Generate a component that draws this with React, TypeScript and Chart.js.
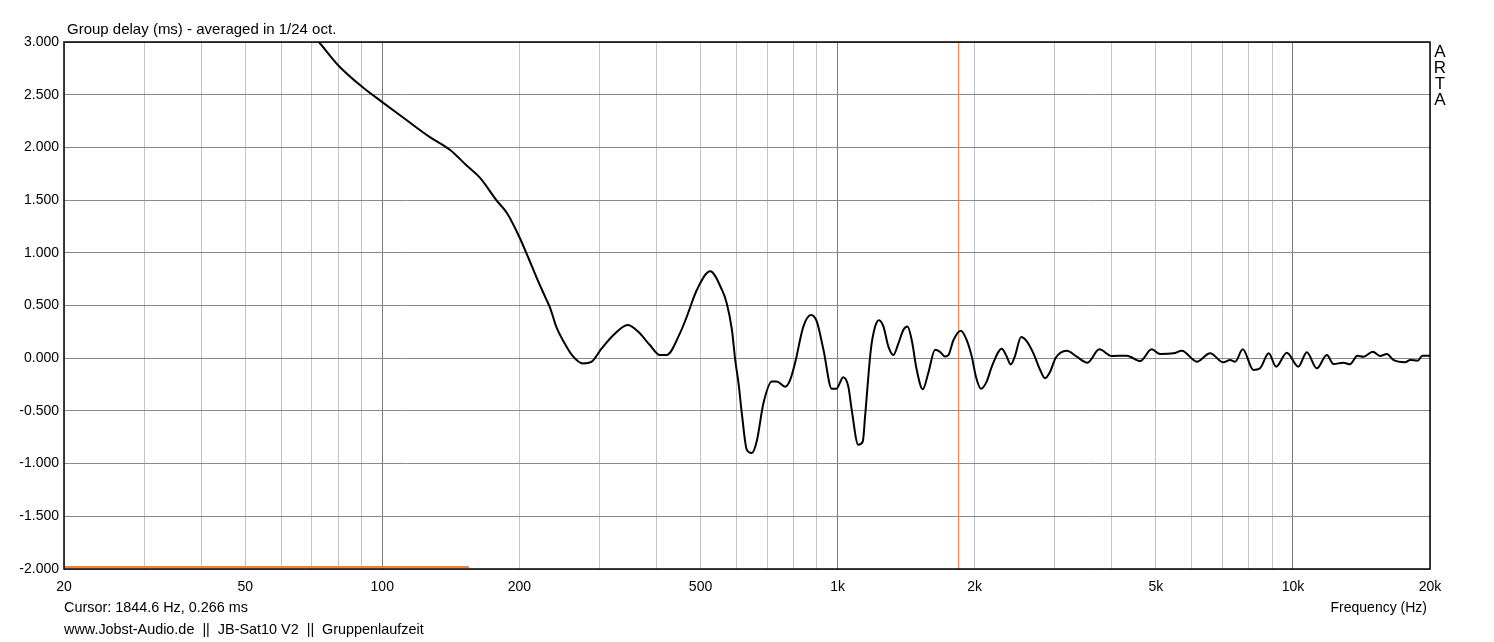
import { useEffect, useRef } from "react";
import { Chart, registerables } from "chart.js";
import type { Plugin } from "chart.js";

Chart.register(...registerables);

// group delay curve (Hz, ms)
const freqs = [
  68, 72.6, 80, 90, 100, 113, 127, 141, 153, 164, 178, 188, 200, 209, 218, 228, 234, 241, 250, 261,
  276, 288, 303, 322, 346, 365, 387, 407, 421, 451, 466, 491, 525, 557, 571, 586, 596, 606, 616, 632,
  648, 665, 687, 717, 735, 767, 786, 806, 841, 874, 900, 931, 971, 994, 1029, 1056, 1074, 1110, 1136,
  1149, 1183, 1209, 1233, 1261, 1293, 1326, 1360, 1395, 1424, 1455, 1492, 1538, 1582, 1637, 1679,
  1722, 1752, 1796, 1865, 1922, 1971, 2014, 2065, 2126, 2181, 2294, 2344, 2400, 2450, 2530, 2603,
  2692, 2784, 2855, 2928, 3010, 3186, 3352, 3537, 3757, 4000, 4318, 4617, 4897, 5108, 5466, 5702,
  6150, 6577, 7034, 7280, 7464, 7760, 8187, 8469, 8848, 9183, 9694, 10280, 10726, 11284, 11870,
  12275, 12909, 13340, 13853, 14280, 14975, 15530, 16090, 16620, 17630, 18100, 18790, 19250, 20000,
];
const delays = [
  3.14, 3.0, 2.78, 2.58, 2.43, 2.26, 2.1, 1.975, 1.83, 1.71, 1.5, 1.375, 1.15, 0.96, 0.77, 0.58, 0.47,
  0.3, 0.16, 0.03, -0.05, -0.035, 0.09, 0.22, 0.315, 0.25, 0.125, 0.03, 0.03, 0.24, 0.39, 0.65, 0.825,
  0.65, 0.52, 0.27, -0.02, -0.24, -0.52, -0.87, -0.9, -0.78, -0.43, -0.22, -0.22, -0.27, -0.21, -0.05,
  0.3, 0.41, 0.35, 0.08, -0.29, -0.29, -0.18, -0.27, -0.49, -0.82, -0.79, -0.555, 0.08, 0.3, 0.36, 0.3,
  0.11, 0.03, 0.14, 0.27, 0.3, 0.17, -0.11, -0.295, -0.14, 0.08, 0.06, 0.015, 0.03, 0.17, 0.26, 0.17,
  0.015, -0.18, -0.29, -0.22, -0.08, 0.09, 0.03, -0.06, 0.015, 0.2, 0.16, 0.046, -0.11, -0.19, -0.13,
  0.0, 0.07, 0.014, -0.043, 0.084, 0.021, 0.024, -0.027, 0.084, 0.04, 0.046, 0.071, -0.033, 0.046,
  -0.039, -0.017, -0.033, 0.084, -0.112, -0.096, 0.046, -0.08, 0.052, -0.08, 0.056, -0.096, 0.03,
  -0.055, -0.043, -0.058, 0.024, 0.014, 0.062, 0.021, 0.04, -0.017, -0.039, -0.017, -0.024, 0.024,
  0.024,
];

// orange reference bar at the bottom and the cursor
const refFreqs = [20, 155];
const refLevel = -1.98;
const cursorFreq = 1844.6;
const cursorDelay = 0.266;

const gridFreqs = [
  20, 30, 40, 50, 60, 70, 80, 90, 100, 200, 300, 400, 500, 600, 700, 800, 900, 1000, 2000, 3000,
  4000, 5000, 6000, 7000, 8000, 9000, 10000, 20000,
];
const xLabels: Record<number, string> = {
  20: "20", 50: "50", 100: "100", 200: "200", 500: "500", 1000: "1k",
  2000: "2k", 5000: "5k", 10000: "10k", 20000: "20k",
};
const decades = [100, 1000, 10000];

const FONT = "'Liberation Sans', Arial, sans-serif";

const frame: Plugin<"line"> = {
  id: "frame",
  afterDraw(chart) {
    const { ctx, chartArea: a } = chart;
    ctx.save();
    ctx.strokeStyle = "#000";
    ctx.lineWidth = 1.5;
    ctx.strokeRect(a.left, a.top, a.right - a.left, a.bottom - a.top);

    ctx.fillStyle = "#000";
    ctx.textBaseline = "middle";
    ctx.textAlign = "left";
    ctx.font = `15px ${FONT}`;
    ctx.fillText("Group delay (ms) - averaged in 1/24 oct.", 67, 30);
    ctx.font = `14.4px ${FONT}`;
    ctx.fillText(`Cursor: ${cursorFreq} Hz, ${cursorDelay.toFixed(3)} ms`, 64, 608);
    ctx.fillText("www.Jobst-Audio.de  ||  JB-Sat10 V2  ||  Gruppenlaufzeit", 64, 630);
    ctx.textAlign = "right";
    ctx.font = `14px ${FONT}`;
    ctx.fillText("Frequency (Hz)", 1427, 608);

    ctx.textAlign = "center";
    ctx.font = `17px ${FONT}`;
    ["A", "R", "T", "A"].forEach((ch, i) => ctx.fillText(ch, 1440, 52 + i * 16));
    ctx.restore();
  },
};

export default function App() {
  const canvasRef = useRef<HTMLCanvasElement>(null);

  useEffect(() => {
    if (!canvasRef.current) return;
    const chart = new Chart(canvasRef.current, {
      type: "line",
      data: {
        datasets: [
          {
            data: freqs.map((f, i) => ({ x: f, y: delays[i] })),
            borderColor: "#000",
            borderWidth: 2,
            pointRadius: 0,
            cubicInterpolationMode: "monotone",
          },
          {
            data: refFreqs.map((f) => ({ x: f, y: refLevel })),
            borderColor: "#ff7b3a",
            borderWidth: 2,
            pointRadius: 0,
          },
          {
            data: [
              { x: cursorFreq, y: -2 },
              { x: cursorFreq, y: 3 },
            ],
            borderColor: "#f07040",
            borderWidth: 1,
            pointRadius: 0,
          },
        ],
      },
      options: {
        responsive: false,
        animation: false,
        layout: { padding: { left: 0, top: 42, right: 64, bottom: 0 } },
        plugins: {
          legend: { display: false },
          tooltip: { enabled: false },
        },
        scales: {
          x: {
            type: "logarithmic",
            min: 20,
            max: 20000,
            afterBuildTicks: (scale) => {
              scale.ticks = gridFreqs.map((v) => ({ value: v }));
            },
            afterFit: (scale) => {
              scale.height = 73;
            },
            ticks: {
              autoSkip: false,
              maxRotation: 0,
              padding: 10,
              color: "#000",
              font: { family: FONT, size: 14 },
              callback: (v) => xLabels[Number(v)] ?? "",
            },
            grid: {
              drawTicks: false,
              color: (c) => (decades.includes(c.tick?.value) ? "#7a7a7a" : "#c4c4c4"),
              lineWidth: 1,
            },
            border: { display: false },
          },
          y: {
            min: -2,
            max: 3,
            afterFit: (scale) => {
              scale.width = 64;
            },
            ticks: {
              stepSize: 0.5,
              padding: 5,
              color: "#000",
              font: { family: FONT, size: 14 },
              callback: (v) => Number(v).toFixed(3),
            },
            grid: { drawTicks: false, color: "#8a8a8a", lineWidth: 1 },
            border: { display: false },
          },
        },
      },
      plugins: [frame],
    });
    return () => chart.destroy();
  }, []);

  return (
    <div style={{ position: "absolute", left: 0, top: 0, width: 1494, height: 642, background: "#fff" }}>
      <canvas ref={canvasRef} width={1494} height={642} />
    </div>
  );
}
